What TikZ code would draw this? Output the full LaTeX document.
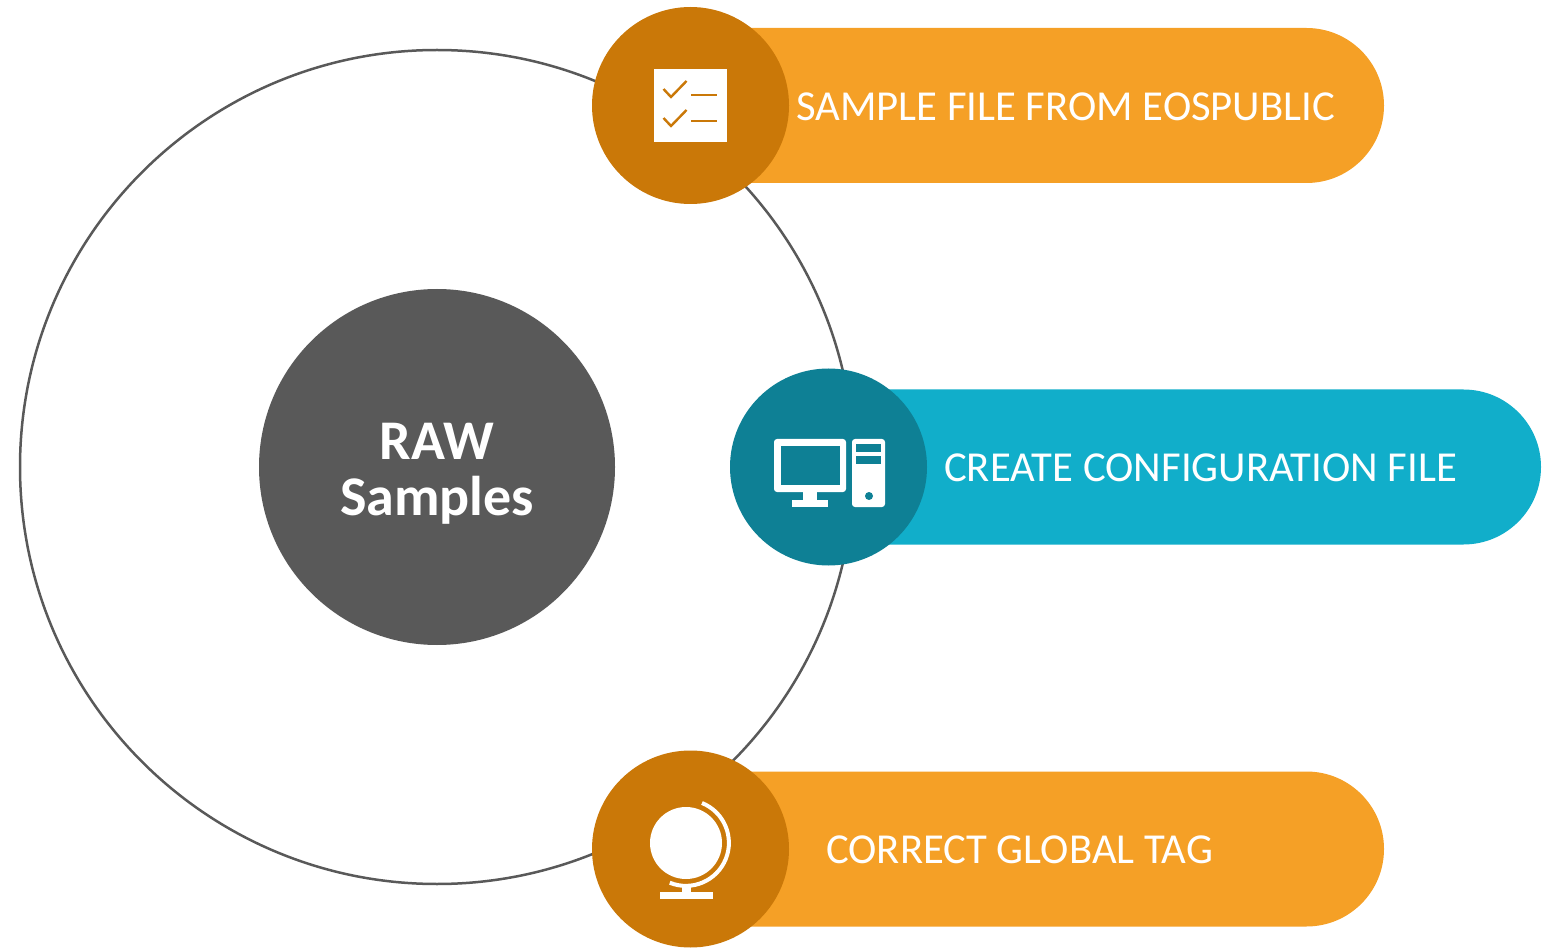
\documentclass[tikz,border=0pt]{standalone}
\usepackage{fontspec}
\setmainfont{Carlito}
\definecolor{amber}{HTML}{F5A026}
\definecolor{amberdark}{HTML}{CA7808}
\definecolor{cyan}{HTML}{11AECA}
\definecolor{cyandark}{HTML}{0E8095}
\definecolor{slate}{HTML}{595959}
\tikzset{
  pill/.style={rounded corners=77.5pt, minimum height=155pt, inner sep=0pt},
  disc/.style={circle, minimum size=197pt, inner sep=0pt},
  steptext/.style={text=white, inner sep=0pt, font=\fontsize{42.7}{48}\selectfont},
}
\begin{document}
\begin{tikzpicture}[x=1pt, y=-1pt]
    \useasboundingbox (0,0) rectangle (1556,949);
    \node (ring) [circle, draw=slate, line width=2.5pt, minimum size=834pt, inner sep=0pt] at (437,467) {};
    \node (raw) [circle, fill=slate, minimum size=356pt, inner sep=0pt] at (437,467) {};
    \node (raw-text) [text=white, align=center, inner sep=0pt,
      font=\fontsize{56}{56}\selectfont\bfseries] at (437,474) {RAW\\Samples};

    \node (pill-a) [pill, fill=amber, minimum width=714pt] at (1027,105.5) {};
    \node (pill-b) [pill, fill=cyan, minimum width=733pt] at (1174.5,467) {};
    \node (pill-c) [pill, fill=amber, minimum width=714pt] at (1027,849) {};

    \node (disc-a) [disc, fill=amberdark] at (690.5,105.5) {};
    \node (disc-b) [disc, fill=cyandark] at (828.5,467) {};
    \node (disc-c) [disc, fill=amberdark] at (690.5,849) {};

    \node (text-a) [steptext, anchor=west] at (796,106.5) {SAMPLE FILE FROM EOSPUBLIC};
    \node (text-b) [steptext, anchor=west] at (944,467.5) {CREATE CONFIGURATION FILE};
    \node (text-c) [steptext, anchor=west] at (826,849.5) {CORRECT GLOBAL TAG};

    % checklist
    \fill[white] (654,69) rectangle (727,142);
    \draw[amberdark, line width=2.4pt] (663.5,89) -- (671,97) -- (686.5,81);
    \draw[amberdark, line width=2.4pt] (663.5,118) -- (671,126) -- (686.5,110);
    \draw[amberdark, line width=2.4pt] (691,95) -- (717,95);
    \draw[amberdark, line width=2.4pt] (691,121) -- (717,121);

    % computer
    \fill[white, rounded corners=3pt] (774,439) rectangle (846,492);
    \fill[cyandark] (781,446) rectangle (840,485);
    \fill[white] (803,492) rectangle (817,500);
    \fill[white] (792,500) rectangle (828,507);
    \fill[white, rounded corners=3pt] (852,439) rectangle (885,507);
    \fill[cyandark] (856,444) rectangle (881,452);
    \fill[cyandark] (856,456) rectangle (881,464);
    \fill[cyandark] (869,496) circle[radius=4];

    % globe
    \fill[white] (686,843) circle[radius=36];
    \draw[white, line width=4pt] (702,803) arc[start angle=-68, end angle=112, radius=43];
    \fill[white] (682,885) rectangle (691,892);
    \fill[white] (660,892) rectangle (713,899);
\end{tikzpicture}
\end{document}
